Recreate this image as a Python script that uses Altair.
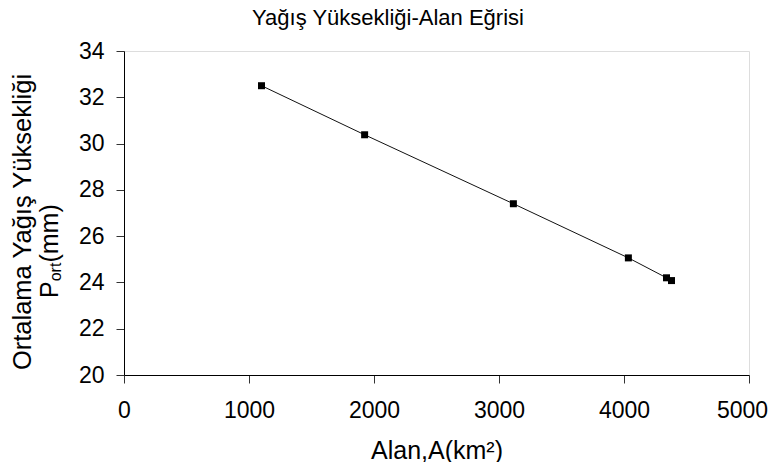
import altair as alt
import pandas as pd

# ---- data ----
area_km2 = [1100, 1925, 3115, 4035, 4340, 4380]
rain_mm = [32.5, 30.38, 27.4, 25.06, 24.2, 24.08]

x_ticks = [0, 1000, 2000, 3000, 4000, 5000]
y_ticks = [20, 22, 24, 26, 28, 30, 32, 34]

title_text = "Yağış Yüksekliği-Alan Eğrisi"
x_title = "Alan,A(km²)"
y_title_line1 = "Ortalama Yağış Yüksekliği"
y_title_P = "P"
y_title_sub = "ort"
y_title_unit = "(mm)"

FONT = "Liberation Sans"
W, H = 625, 324

df = pd.DataFrame({"A": area_km2, "P": rain_mm})

x_enc = alt.X(
    "A:Q",
    scale=alt.Scale(domain=[0, 5000], nice=False, zero=False),
    axis=alt.Axis(
        values=x_ticks, format="d", title=x_title, grid=False,
        labelFont=FONT, labelFontSize=23, labelColor="#000", labelPadding=16,
        labelOffset={"condition": {"test": "datum.value === 5000", "value": -7}, "value": 0},
        tickSize=8, tickColor="#333", domainColor="#000", domainWidth=1,
        titleFont=FONT, titleFontSize=25, titleFontWeight="normal", titleColor="#000",
        titleBaseline="alphabetic", titleY=83, labelFlush=False, zindex=1,
    ),
)
y_enc = alt.Y(
    "P:Q",
    scale=alt.Scale(domain=[20, 34], nice=False, zero=False),
    axis=alt.Axis(
        values=y_ticks, format="d", title=None, grid=False,
        labelFont=FONT, labelFontSize=23, labelColor="#000", labelPadding=12,
        tickSize=8, tickColor="#333", domainColor="#000", domainWidth=1,
        labelFlush=False, zindex=1,
    ),
)

line = alt.Chart(df).mark_line(color="#111", strokeWidth=1).encode(x=x_enc, y=y_enc)
pts = alt.Chart(df).mark_point(
    shape="square", filled=True, size=49, color="#000", opacity=1
).encode(x="A:Q", y="P:Q")


def label(txt, x, y, size, angle=0, align="center"):
    return alt.Chart(pd.DataFrame({"t": [txt]})).mark_text(
        font=FONT, fontSize=size, angle=angle, align=align,
        baseline="alphabetic", color="#000",
    ).encode(text="t:N", x=alt.value(x), y=alt.value(y))


title = label(title_text, 264, -26, 22)
yl1 = label(y_title_line1, -93, 171, 25.5, angle=270)
yP = label(y_title_P, -66, 247, 25, angle=270, align="left")
ysub = label(y_title_sub, -63, 230.3, 16, angle=270, align="left")
yunit = label(y_title_unit, -66, 211.6, 25, angle=270, align="left")

chart = alt.layer(line, pts, title, yl1, yP, ysub, yunit).properties(
    width=W, height=H,
    autosize=alt.AutoSizeParams(type="none"),
    padding={"left": 116, "top": 43, "right": 19, "bottom": 87},
).configure_view(stroke="#808080", strokeWidth=1.5).configure(background="white")

chart.save("out.html", embed_options={"renderer": "svg", "actions": False})
